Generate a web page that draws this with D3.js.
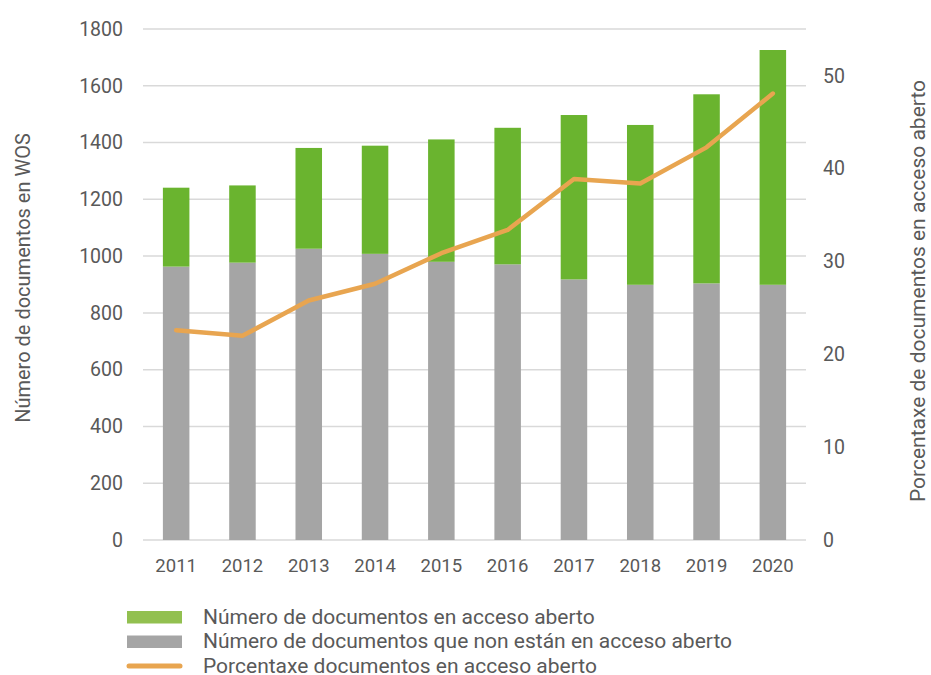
<!DOCTYPE html>
<html>
<head>
<meta charset="utf-8">
<script src="https://cdn.jsdelivr.net/npm/d3@7"></script>
<style>
  body { margin: 0; background: #fff; }
  text { font-family: Roboto, "Noto Sans", sans-serif; fill: #595959; }
</style>
</head>
<body>
<div id="content"></div>
<script>
var Width = 931;
var Height = 675;

// datos
var years = ["2011", "2012", "2013", "2014", "2015", "2016", "2017", "2018", "2019", "2020"];
var abertos = [278, 272, 355, 381, 431, 481, 579, 563, 666, 827];
var nonAbertos = [963, 977, 1026, 1008, 980, 971, 918, 899, 904, 899];
var porcentaxe = [22.6, 22.0, 25.8, 27.6, 30.9, 33.4, 38.9, 38.4, 42.3, 48.1];
var leftTicks = [0, 200, 400, 600, 800, 1000, 1200, 1400, 1600, 1800];
var rightTicks = [0, 10, 20, 30, 40, 50];

var cGreen = "#6ab42f";
var cGray = "#a5a5a5";
var cOrange = "#e8a550";

var svg = d3.select("#content").append("svg")
  .attr("width", Width)
  .attr("height", Height);

var pLeft = 143, pRight = 806, pTop = 29, pBottom = 540;

var x = d3.scaleBand().domain(years).range([pLeft, pRight]).paddingInner(0.6).paddingOuter(0.3);
var y = d3.scaleLinear().domain([0, 1800]).range([pBottom, pTop]);
var y2 = d3.scaleLinear().domain([0, 55.05]).range([pBottom, pTop]);

// liñas de grella
svg.append("g")
  .selectAll("line")
  .data(leftTicks)
  .enter()
  .append("line")
  .attr("x1", pLeft)
  .attr("x2", pRight)
  .attr("y1", function (d) { return y(d); })
  .attr("y2", function (d) { return y(d); })
  .attr("stroke", "#d9d9d9")
  .attr("stroke-width", 1.5);

// eixo esquerdo
var yAxis = d3.axisLeft(y).tickValues(leftTicks).tickFormat(d3.format("d")).tickSize(0).tickPadding(20);
svg.append("g")
  .attr("transform", "translate(" + pLeft + ",0)")
  .call(yAxis)
  .call(function (g) { g.select(".domain").remove(); })
  .selectAll("text")
  .style("font-size", "19.5px")
  .attr("fill", "#595959");

// eixo dereito
var y2Axis = d3.axisRight(y2).tickValues(rightTicks).tickFormat(d3.format("d")).tickSize(0).tickPadding(17);
svg.append("g")
  .attr("transform", "translate(" + pRight + ",0)")
  .call(y2Axis)
  .call(function (g) { g.select(".domain").remove(); })
  .selectAll("text")
  .style("font-size", "19.5px")
  .attr("fill", "#595959");

// eixo x
var xAxis = d3.axisBottom(x).tickSize(0).tickPadding(19);
svg.append("g")
  .attr("transform", "translate(0," + pBottom + ")")
  .call(xAxis)
  .call(function (g) { g.select(".domain").remove(); })
  .selectAll("text")
  .style("font-size", "18.5px")
  .attr("fill", "#595959");

// barras non abertas
svg.append("g")
  .selectAll("rect")
  .data(years)
  .enter()
  .append("rect")
  .attr("x", function (d) { return x(d); })
  .attr("width", x.bandwidth())
  .attr("y", function (d, i) { return y(nonAbertos[i]); })
  .attr("height", function (d, i) { return y(0) - y(nonAbertos[i]); })
  .attr("fill", cGray);

// barras abertas
svg.append("g")
  .selectAll("rect")
  .data(years)
  .enter()
  .append("rect")
  .attr("x", function (d) { return x(d); })
  .attr("width", x.bandwidth())
  .attr("y", function (d, i) { return y(nonAbertos[i] + abertos[i]); })
  .attr("height", function (d, i) { return y(nonAbertos[i]) - y(nonAbertos[i] + abertos[i]); })
  .attr("fill", cGreen);

// liña de porcentaxe
var line = d3.line()
  .x(function (d, i) { return x(years[i]) + x.bandwidth() / 2; })
  .y(function (d) { return y2(d); });
svg.append("path")
  .datum(porcentaxe)
  .attr("d", line)
  .attr("fill", "none")
  .attr("stroke", cOrange)
  .attr("stroke-width", 4.5)
  .attr("stroke-linecap", "round")
  .attr("stroke-linejoin", "round");

// títulos dos eixos
svg.append("text")
  .attr("transform", "translate(30,278) rotate(-90)")
  .style("text-anchor", "middle")
  .style("font-size", "20px")
  .text("Número de documentos en WOS");

svg.append("text")
  .attr("transform", "translate(925,291) rotate(-90)")
  .style("text-anchor", "middle")
  .style("font-size", "21px")
  .text("Porcentaxe de documentos en acceso aberto");

// lenda
var legendItems = [
  { label: "Número de documentos en acceso aberto", color: "#92c050", type: "rect" },
  { label: "Número de documentos que non están en acceso aberto", color: cGray, type: "rect" },
  { label: "Porcentaxe documentos en acceso aberto", color: cOrange, type: "line" }
];
var legend = svg.append("g").attr("transform", "translate(127,617)");
legendItems.forEach(function (d, i) {
  var g = legend.append("g").attr("transform", "translate(0," + i * 24.5 + ")");
  if (d.type === "rect") {
    g.append("rect").attr("x", 0).attr("y", -6).attr("width", 55).attr("height", 12.5).attr("fill", d.color);
  } else {
    g.append("line").attr("x1", 2).attr("x2", 53).attr("y1", 0).attr("y2", 0)
      .attr("stroke", d.color).attr("stroke-width", 5).attr("stroke-linecap", "round");
  }
  g.append("text")
    .attr("x", 76)
    .attr("y", 6.5)
    .style("font-size", "21px")
    .text(d.label);
});
</script>
</body>
</html>
